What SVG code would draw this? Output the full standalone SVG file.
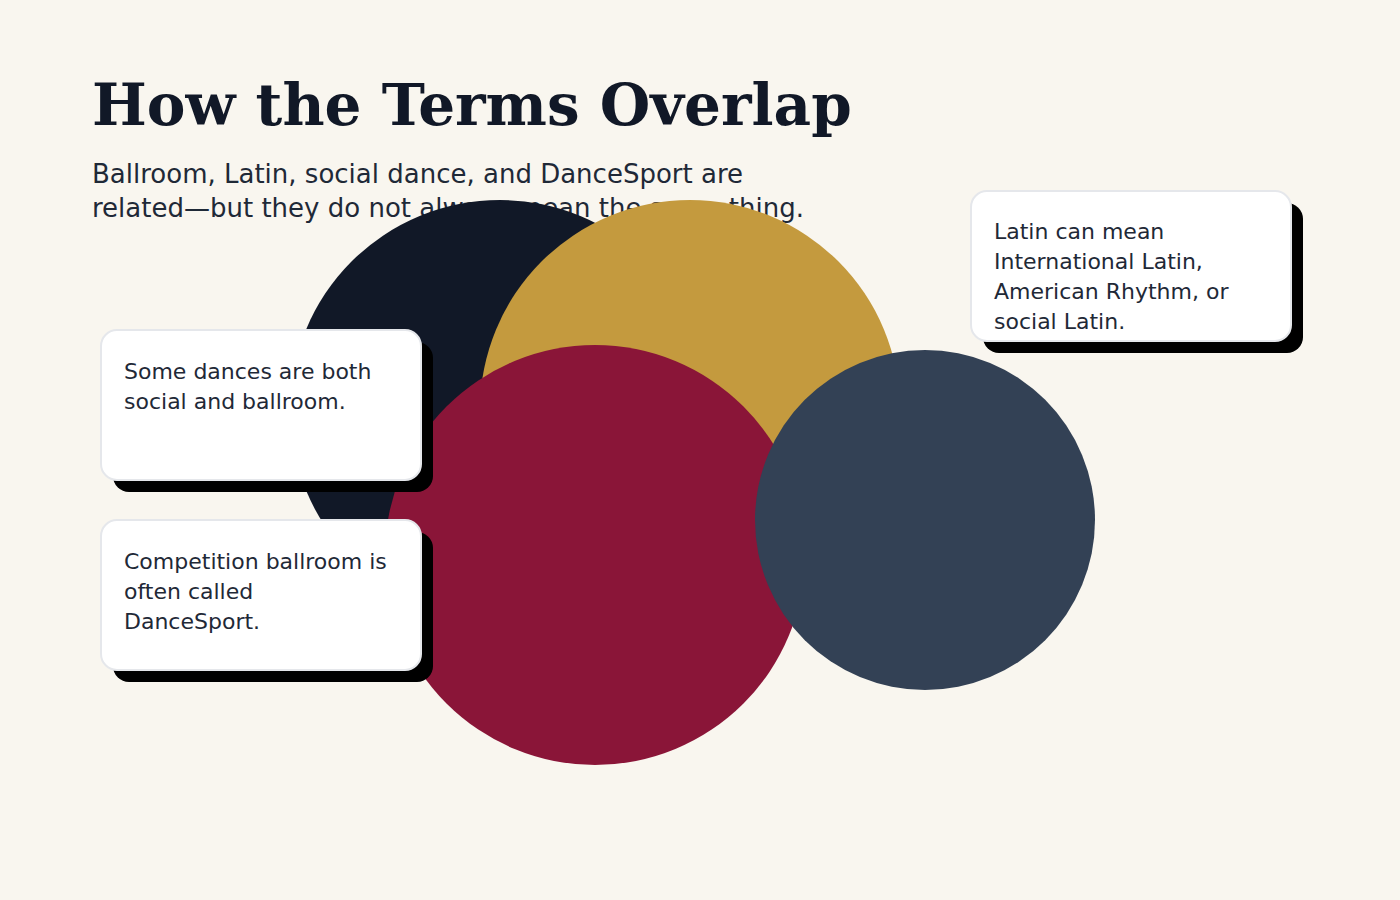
<svg xmlns="http://www.w3.org/2000/svg" width="1400" height="900" viewBox="0 0 1400 900">
<style>
.title{font-family:"DejaVu Serif","Liberation Serif",serif;font-weight:bold;font-size:58px;fill:#111827}
.sub{font-family:"DejaVu Sans","Liberation Sans",sans-serif;font-size:26px;fill:#1f2937}
.card{fill:#ffffff;stroke:#e5e7eb;stroke-width:2}
.shadow{fill:#000000}
.ct{font-family:"DejaVu Sans","Liberation Sans",sans-serif;font-size:22px;fill:#1f2937}
</style>
<rect x="0" y="0" width="1400" height="900" fill="#f9f6ef"/>
<text class="title" x="92" y="125">How the Terms Overlap</text>
<text class="sub" x="92" y="183">Ballroom, Latin, social dance, and DanceSport are</text>
<text class="sub" x="92" y="217">related—but they do not always mean the same thing.</text>
<g id="circle-ballroom"><circle cx="500" cy="410" r="210" fill="#111827"/></g>
<g id="circle-latin"><circle cx="690" cy="410" r="210" fill="#c49a3e"/></g>
<g id="circle-dancesport"><circle cx="595" cy="555" r="210" fill="#8a1538"/></g>
<g id="circle-social"><circle cx="925" cy="520" r="170" fill="#334155"/></g>
<g id="connectors"></g>
<g id="note-latin">
<rect class="shadow" x="983" y="203" width="320" height="150" rx="16"/>
<rect class="card" x="971" y="191" width="320" height="150" rx="16"/>
<text class="ct" x="994" y="239">Latin can mean</text>
<text class="ct" x="994" y="269">International Latin,</text>
<text class="ct" x="994" y="299">American Rhythm, or</text>
<text class="ct" x="994" y="329">social Latin.</text>
</g>
<g id="note-social">
<rect class="shadow" x="113" y="342" width="320" height="150" rx="16"/>
<rect class="card" x="101" y="330" width="320" height="150" rx="16"/>
<text class="ct" x="124" y="379">Some dances are both</text>
<text class="ct" x="124" y="409">social and ballroom.</text>
</g>
<g id="note-dancesport">
<rect class="shadow" x="113" y="532" width="320" height="150" rx="16"/>
<rect class="card" x="101" y="520" width="320" height="150" rx="16"/>
<text class="ct" x="124" y="569">Competition ballroom is</text>
<text class="ct" x="124" y="599">often called</text>
<text class="ct" x="124" y="629">DanceSport.</text>
</g>
</svg>
